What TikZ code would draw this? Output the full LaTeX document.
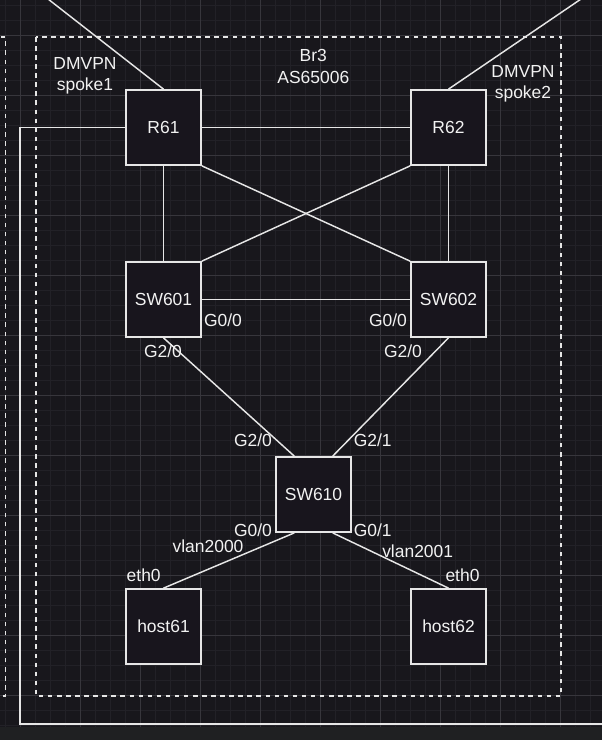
\documentclass[tikz,border=0pt]{standalone}
\usepackage{fontspec}
\setmainfont{Liberation Sans}
\usetikzlibrary{calc}
\definecolor{bgc}{HTML}{18171C}
\definecolor{stripc}{HTML}{1F2022}
\definecolor{gridminor}{HTML}{222127}
\definecolor{gridmajor}{HTML}{37363C}
\definecolor{linec}{HTML}{E6E6E6}
\definecolor{boxfill}{HTML}{18151D}
\definecolor{txtc}{HTML}{F2F2F2}
\tikzset{
  devbox/.style={draw=linec, fill=boxfill, line width=1.3pt, minimum width=56.25pt, minimum height=56.25pt, inner sep=0pt, text=txtc, font=\fontsize{13.1}{16}\selectfont},
  conn/.style={draw=linec, line width=1.1pt},
  zone/.style={draw=linec, line width=1.1pt, dash pattern=on 3.4pt off 3.4pt},
  lbl/.style={text=txtc, font=\fontsize{13.1}{16}\selectfont, inner sep=0pt, anchor=base},
  gmin/.style={draw=gridminor, line width=0.75pt},
  gmaj/.style={draw=gridmajor, line width=0.75pt}
}
\begin{document}
\begin{tikzpicture}[x=0.75pt,y=-0.75pt]
\useasboundingbox (0,0) rectangle (602,740);
\clip (0,0) rectangle (602,740);
% background
\fill[stripc] (0,0) rectangle (602,740);
\fill[bgc] (0,0) rectangle (602,727);
\begin{scope}
\clip (0,0) rectangle (602,727);
\foreach \v in {5,20,...,600} \draw[gmin] (\v,0) -- (\v,727);
\foreach \v in {5,20,...,725} \draw[gmin] (0,\v) -- (602,\v);
\foreach \v in {20,80,...,560} \draw[gmaj] (\v,0) -- (\v,727);
\foreach \v in {35,95,...,695} \draw[gmaj] (0,\v) -- (602,\v);
\end{scope}
% zones
\draw[zone] (36,37) rectangle (561,696);
\draw[zone] (-100,37) rectangle (5.3,696);
% devices
\node[devbox] (R61) at (163.5,127.5) {R61};
\node[devbox] (R62) at (448.5,127.5) {R62};
\node[devbox] (SW601) at (163.5,299.5) {SW601};
\node[devbox] (SW602) at (448.5,299.5) {SW602};
\node[devbox] (SW610) at (313.5,494.5) {SW610};
\node[devbox] (host61) at (163.5,626.5) {host61};
\node[devbox] (host62) at (448.5,626.5) {host62};
% free ends
\coordinate (up1) at (23.7,-20);
\coordinate (up2) at (609,-20);
\coordinate (lp1) at (20,127.5);
\coordinate (lp2) at (20,724);
\coordinate (lp3) at (640,724);
% connectors
\draw[conn] (R61.north) -- (up1);
\draw[conn] (R62.north) -- (up2);
\draw[conn] (R61.west) -- (lp1) -- (lp2) -- (lp3);
\draw[conn] (R61) -- (R62);
\draw[conn] (R61) -- (SW601);
\draw[conn] (R62) -- (SW602);
\draw[conn] (R61.south east) -- (SW602.north west);
\draw[conn] (R62.south west) -- (SW601.north east);
\draw[conn] (SW601) -- (SW602);
\draw[conn] (SW601.south) -- ($(SW610.north west)!0.25!(SW610.north east)$);
\draw[conn] (SW602.south) -- ($(SW610.north west)!0.75!(SW610.north east)$);
\draw[conn] ($(SW610.south west)!0.25!(SW610.south east)$) -- (host61.north);
\draw[conn] ($(SW610.south west)!0.75!(SW610.south east)$) -- (host62.north);
% labels
\node[lbl] (l1a) at (85,69) {DMVPN};
\node[lbl] (l1b) at (85,90.5) {spoke1};
\node[lbl] (l2a) at (523,77) {DMVPN};
\node[lbl] (l2b) at (523,98.5) {spoke2};
\node[lbl] (l3a) at (313.3,61.7) {Br3};
\node[lbl] (l3b) at (313.3,83.3) {AS65006};
\node[lbl] (p1) at (223,326.7) {G0/0};
\node[lbl] (p2) at (388,326.7) {G0/0};
\node[lbl] (p3) at (163,357.3) {G2/0};
\node[lbl] (p4) at (403,357.3) {G2/0};
\node[lbl] (p5) at (253,446.7) {G2/0};
\node[lbl] (p6) at (372.7,446.7) {G2/1};
\node[lbl] (p7) at (253,536.7) {G0/0};
\node[lbl] (p8) at (372.7,536.7) {G0/1};
\node[lbl] (v1) at (208,552.7) {vlan2000};
\node[lbl] (v2) at (417.7,557.3) {vlan2001};
\node[lbl] (e1) at (143.7,581.7) {eth0};
\node[lbl] (e2) at (462.5,581.7) {eth0};
\end{tikzpicture}
\end{document}
